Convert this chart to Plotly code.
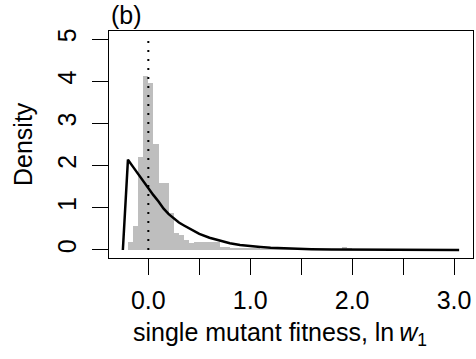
import plotly.graph_objects as go

# Histogram (density), bins of width 0.05 starting at these left edges
bin_starts = [-0.20, -0.15, -0.10, -0.05, 0.00, 0.05, 0.10, 0.15, 0.20, 0.25,
              0.30, 0.35, 0.40, 0.45, 0.50, 0.55, 0.60, 0.65, 0.70, 0.75,
              0.80, 0.85, 0.90, 0.95, 1.00, 1.05, 1.10, 1.15, 1.20, 1.25,
              1.30, 1.35, 1.40, 1.45, 1.50, 1.55, 1.60, 1.65, 1.70, 1.75,
              1.80, 1.85, 1.90, 1.95, 2.00, 2.05]
hist_density = [0.20, 0.58, 2.20, 4.13, 3.95, 2.52, 1.58, 1.58, 0.88, 0.40,
                0.36, 0.24, 0.17, 0.20, 0.20, 0.19, 0.20, 0.20, 0.08, 0.08,
                0.05, 0.05, 0.05, 0.04, 0.03, 0.03, 0.02, 0.02, 0.05, 0.04,
                0.02, 0.02, 0.05, 0.05, 0.02, 0.01, 0.02, 0.01, 0.01, 0.02,
                0.01, 0.02, 0.06, 0.05, 0.02, 0.01]
bin_width = 0.05

# Fitted density curve
curve_x = [-0.25, -0.20, -0.15, -0.10, -0.05, 0.00, 0.05, 0.10, 0.15, 0.20,
           0.25, 0.30, 0.35, 0.40, 0.45, 0.50, 0.60, 0.70, 0.80, 0.90,
           1.00, 1.10, 1.20, 1.40, 1.60, 1.80, 2.00, 2.50, 3.05]
curve_y = [0.0, 2.14, 1.97, 1.80, 1.63, 1.47, 1.30, 1.15, 0.98, 0.85,
           0.74, 0.65, 0.58, 0.51, 0.44, 0.38, 0.29, 0.22, 0.16, 0.12,
           0.09, 0.07, 0.05, 0.03, 0.02, 0.01, 0.006, 0.002, 0.0005]

x_tickvals = [0.0, 0.5, 1.0, 1.5, 2.0, 2.5, 3.0]
x_ticktext = ["0.0", "", "1.0", "", "2.0", "", "3.0"]
y_tickvals = [0, 1, 2, 3, 4, 5]
y_ticktext = ["0", "1", "2", "3", "4", "5"]

FONT = "Liberation Sans, Arial, Helvetica, sans-serif"
FS = 25

W, H = 476, 359
L, R, T, B = 109, 3, 31, 101
pw = W - L - R
ph = H - T - B


def px_x(x):
    return (x - L) / pw


def px_y(y):
    return (H - B - y) / ph


fig = go.Figure()
fig.add_trace(go.Bar(
    x=[s + bin_width / 2 for s in bin_starts], y=hist_density,
    width=bin_width, marker=dict(color="#BEBEBE", line=dict(width=0)),
    hoverinfo="skip"))
fig.add_trace(go.Scatter(
    x=curve_x, y=curve_y, mode="lines",
    line=dict(color="black", width=2.5), hoverinfo="skip"))

fig.add_shape(type="line", x0=0, x1=0, y0=0, y1=5.1, xref="x", yref="y",
              line=dict(color="black", width=2, dash="2px,7px"))

fig.update_layout(
    width=W, height=H,
    margin=dict(l=L, r=R, t=T, b=B),
    paper_bgcolor="white", plot_bgcolor="white",
    showlegend=False, bargap=0,
    font=dict(family=FONT, size=FS, color="black"),
    xaxis=dict(range=[-0.386, 3.186], tickvals=x_tickvals, ticktext=x_ticktext,
               ticks="outside", ticklen=16, tickwidth=1.3, tickcolor="black",
               showline=True, linecolor="black", linewidth=1.3, mirror=True,
               showgrid=False, zeroline=False, ticklabelstandoff=4,
               tickfont=dict(size=FS)),
    yaxis=dict(range=[-0.19, 5.19], tickvals=y_tickvals, ticktext=y_ticktext,
               ticks="outside", ticklen=16, tickwidth=1.3, tickcolor="black",
               showline=True, linecolor="black", linewidth=1.3, mirror=True,
               showgrid=False, zeroline=False, tickangle=-90,
               ticklabelstandoff=6, tickfont=dict(size=FS)),
    annotations=[
        dict(text="(b)", x=px_x(109), y=px_y(15), xref="paper", yref="paper",
             xanchor="left", yanchor="middle", showarrow=False,
             font=dict(size=FS)),
        dict(text="single mutant fitness, ln\u2009<i>w</i><sub>1</sub>",
             x=px_x(280), y=px_y(334), xref="paper", yref="paper",
             xanchor="center", yanchor="middle", showarrow=False,
             font=dict(size=FS)),
        dict(text="Density", x=px_x(23), y=px_y(144), xref="paper",
             yref="paper", xanchor="center", yanchor="middle", textangle=-90,
             showarrow=False, font=dict(size=FS)),
    ],
)

fig.write_html("out.html")
